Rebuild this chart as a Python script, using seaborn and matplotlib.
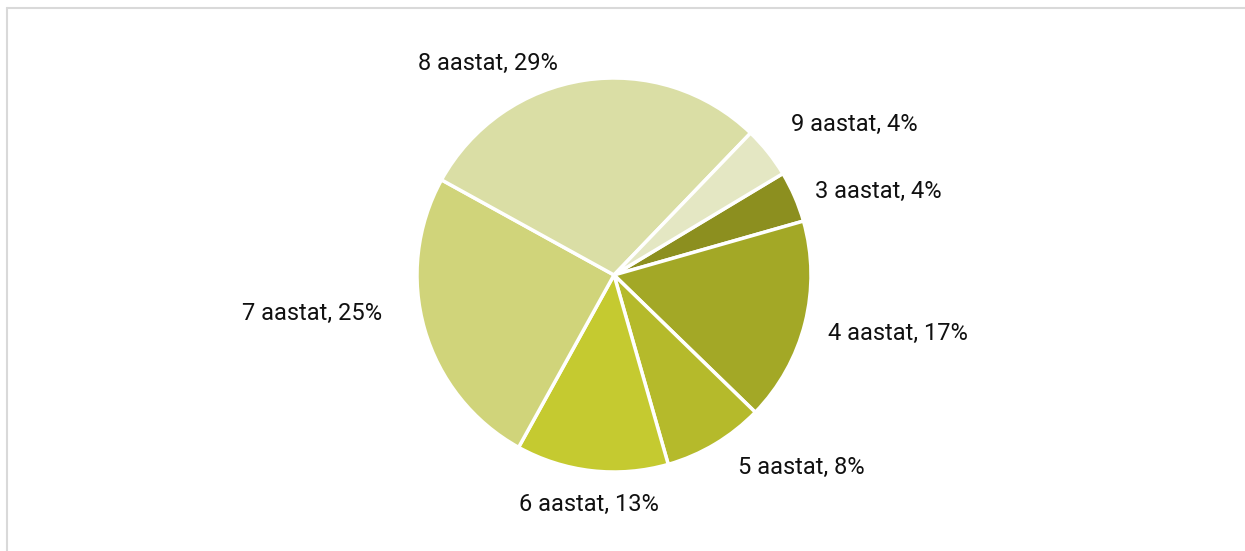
import matplotlib
matplotlib.use("Agg")
import matplotlib.pyplot as plt
import seaborn as sns
from matplotlib.lines import Line2D

# andmed
kategooriad = ["3 aastat", "4 aastat", "5 aastat", "6 aastat", "7 aastat", "8 aastat", "9 aastat"]
osakaal = [4.2, 16.7, 8.3, 12.5, 25.0, 29.2, 4.2]
protsent_sildid = ["4%", "17%", "8%", "13%", "25%", "29%", "4%"]

varvid = ["#8c8f1f", "#a3a826", "#b5ba2b", "#c5ca30", "#d0d47a", "#dadea5", "#e4e7c3"]

# sildi keskpunktid pikslites (x, y ülevalt)
sildi_kohad = [(878, 191), (898, 333), (801, 467), (589, 504), (312, 313), (488, 63), (854, 124)]

W, H = 1245, 551

sns.set_theme(style="white")
plt.rcParams["font.family"] = ["Roboto", "DejaVu Sans"]

fig = plt.figure(figsize=(W / 100, H / 100), dpi=100)
ax = fig.add_axes([0, 0, 1, 1])

sildid = [f"{k}, {p}" for k, p in zip(kategooriad, protsent_sildid)]
wedges, texts = ax.pie(
    osakaal,
    labels=sildid,
    colors=varvid,
    startangle=31,
    counterclock=False,
    radius=197,
    center=(614, H - 275),
    wedgeprops=dict(edgecolor="white", linewidth=2.5),
    textprops=dict(fontsize=17, color="#111111"),
    frame=False,
)
for t, (x, y) in zip(texts, sildi_kohad):
    t.set_position((x, H - y))
    t.set_ha("center")
    t.set_va("center")

ax.set_xlim(0, W)
ax.set_ylim(0, H)
ax.set_aspect("equal")
ax.axis("off")

# raam vasakul ja üleval
fig.add_artist(Line2D([7 / W, 7 / W], [0, 1 - 8 / H], transform=fig.transFigure, color="#d9d9d9", lw=1.5))
fig.add_artist(Line2D([7 / W, 1], [1 - 8 / H, 1 - 8 / H], transform=fig.transFigure, color="#d9d9d9", lw=1.5))

fig.savefig("out.png", dpi=100, facecolor="white")
plt.close()
